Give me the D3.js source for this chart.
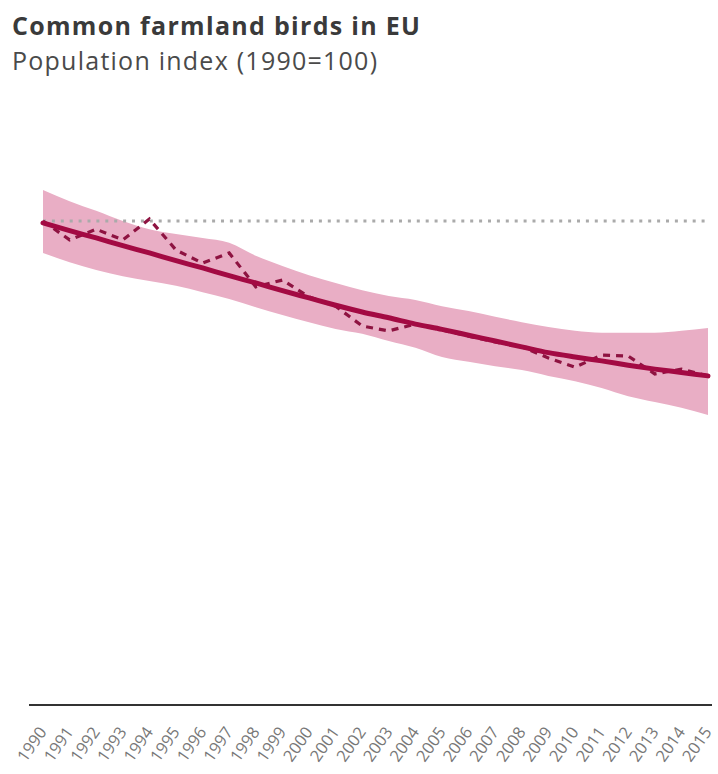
<!DOCTYPE html>
<html>
<head>
<meta charset="utf-8">
<script src="https://cdn.jsdelivr.net/npm/d3@7"></script>
<style>
  html, body { margin: 0; padding: 0; background: #fff; }
  svg { display: block; }
</style>
</head>
<body>
<svg id="chart" width="718" height="774"></svg>
<script>
const years = [1990,1991,1992,1993,1994,1995,1996,1997,1998,1999,2000,2001,2002,2003,2004,2005,2006,2007,2008,2009,2010,2011,2012,2013,2014,2015];
const indexValues = [100,96.1,98.3,96.1,100.4,94.0,91.3,93.4,86.4,87.8,84.3,82.4,78.3,77.3,78.7,77.5,76.2,75.0,74.0,71.7,69.8,72.3,72.1,68.4,69.4,68.0];
const trendValues = [99.6,98.0,96.5,94.9,93.4,91.8,90.3,88.7,87.2,85.6,84.1,82.6,81.2,80.0,78.7,77.6,76.4,75.2,74.0,72.8,71.9,71.1,70.2,69.4,68.7,68.0];
const upperValues = [106.4,104.1,102.1,100.0,98.3,97.3,96.5,95.5,92.8,90.7,88.8,87.2,85.7,84.5,83.7,82.4,81.4,80.2,79.1,78.1,77.3,76.9,76.9,76.9,77.3,77.9];
const lowerValues = [93.4,91.5,89.9,88.6,87.6,86.6,85.3,83.9,82.2,80.6,79.1,77.7,76.7,75.2,73.8,71.9,70.9,70.0,69.2,68.0,66.9,65.5,63.8,62.6,61.4,59.9];
const baseValue = 100;
const titleText = "Common farmland birds in EU";
const subtitleText = "Population index (1990=100)";

const svg = d3.select("#chart");
const x = d3.scaleLinear().domain([1990, 2015]).range([43, 708]);
const y = d3.scaleLinear().domain([0, 100]).range([705, 221]);

const data = years.map((yr, i) => ({
  year: yr, v: indexValues[i], t: trendValues[i], hi: upperValues[i], lo: lowerValues[i]
}));

// title
svg.append("text").attr("x", 12).attr("y", 35)
  .attr("font-family", "'Open Sans', sans-serif").attr("font-weight", "bold")
  .attr("font-size", 25).attr("fill", "#3a3a3a")
  .attr("textLength", 408).attr("lengthAdjust", "spacing").text(titleText);
svg.append("text").attr("x", 12).attr("y", 70)
  .attr("font-family", "'Open Sans', sans-serif")
  .attr("font-size", 25).attr("fill", "#4a4a4a")
  .attr("textLength", 365).attr("lengthAdjust", "spacing").text(subtitleText);

// confidence band
svg.append("path").datum(data)
  .attr("fill", "#e9aec5")
  .attr("d", d3.area().x(d => x(d.year)).y0(d => y(d.lo)).y1(d => y(d.hi)).curve(d3.curveMonotoneX));

// reference line at 100
svg.append("line")
  .attr("x1", x(1990)).attr("x2", x(2015)).attr("y1", y(baseValue)).attr("y2", y(baseValue))
  .attr("stroke", "#aaa").attr("stroke-width", 3).attr("stroke-dasharray", "3 5.9");

// index dashed line
svg.append("path").datum(data)
  .attr("fill", "none").attr("stroke", "#8e1341").attr("stroke-width", 3.2)
  .attr("stroke-dasharray", "7 6")
  .attr("d", d3.line().x(d => x(d.year)).y(d => y(d.v)));

// trend line
svg.append("path").datum(data)
  .attr("fill", "none").attr("stroke", "#a30a43").attr("stroke-width", 5)
  .attr("stroke-linecap", "round")
  .attr("d", d3.line().x(d => x(d.year)).y(d => y(d.t)).curve(d3.curveMonotoneX));

// x axis
const axis = d3.axisBottom(x).tickValues(years).tickFormat(d3.format("d")).tickSize(0);
const g = svg.append("g").attr("transform", `translate(0,${y(0)})`).call(axis);
g.select(".domain").remove();
svg.append("line").attr("x1", 29).attr("x2", 712).attr("y1", y(0)).attr("y2", y(0))
  .attr("stroke", "#333").attr("stroke-width", 2);
g.selectAll(".tick text")
  .attr("font-family", "'Open Sans', sans-serif").attr("font-size", 16.5).attr("fill", "#777")
  .attr("text-anchor", "end").attr("dy", null).attr("y", null)
  .attr("transform", "translate(4,27) rotate(-55)");
</script>
</body>
</html>
